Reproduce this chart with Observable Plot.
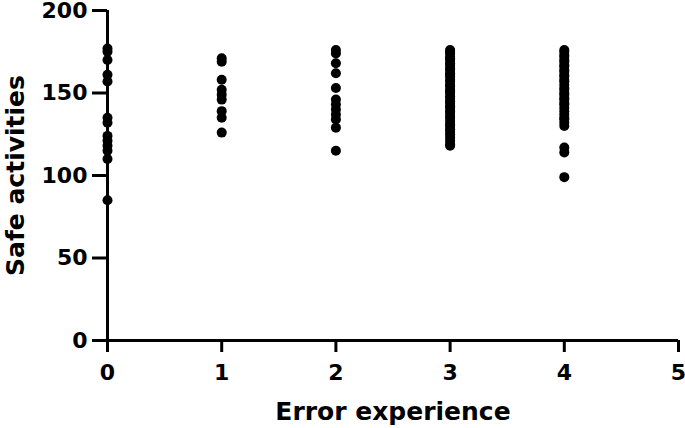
<!DOCTYPE html>
<html>
<head>
<meta charset="utf-8">
<script src="https://cdn.jsdelivr.net/npm/d3@7"></script>
<script src="https://cdn.jsdelivr.net/npm/@observablehq/plot@0.6"></script>
<style>
  html, body { margin: 0; padding: 0; background: #fff; }
  g[aria-label$="tick label"], g[aria-label$="tick label"] text {
    font-size: 22px !important;
    font-weight: bold !important;
    font-family: 'DejaVu Sans', sans-serif !important;
  }
</style>
</head>
<body>
<div id="chart"></div>
<script>
const xTicks = [0, 1, 2, 3, 4, 5];
const yTicks = [0, 50, 100, 150, 200];
const xLabel = "Error experience";
const yLabel = "Safe activities";

const exp0 = [177, 175, 170, 161, 157, 135, 132, 124, 121, 118, 115, 110, 85];
const exp1 = [171, 169, 158, 152, 149, 146, 139, 135, 126];
const exp2 = [176, 174, 168, 162, 153, 146, 143, 140, 137, 134, 129, 115];
const exp3 = [176, 175, 174, 172, 171, 170, 168, 167, 165, 164, 162, 161, 160, 158, 157, 155, 154, 152, 151, 150, 148, 147, 145, 144, 142, 141, 139, 138, 136, 135, 133, 131, 130, 128, 127, 125, 123, 121, 119, 118];
const exp4 = [176, 175, 173, 172, 170, 169, 167, 166, 164, 163, 161, 160, 158, 157, 155, 153, 152, 150, 149, 147, 146, 144, 143, 141, 139, 137, 135, 134, 132, 130, 117, 114, 99];

const groups = [exp0, exp1, exp2, exp3, exp4];
const data = groups.flatMap((vals, i) => vals.map(v => ({x: i, y: v})));

const FONT = "'DejaVu Sans', sans-serif";

const chart = Plot.plot({
  width: 685,
  height: 428,
  marginLeft: 107,
  marginRight: 7,
  marginTop: 10,
  marginBottom: 88,
  style: {fontFamily: FONT, fontSize: "22px", fontWeight: "bold", background: "#fff", color: "#000"},
  x: {domain: [0, 5]},
  y: {domain: [0, 200]},
  marks: [
    Plot.axisX({ticks: xTicks, tickFormat: d3.format("d"), tickSize: 12, strokeWidth: 3, tickPadding: 12,
      fontSize: 22, fontWeight: "bold", label: null}),
    Plot.axisY({ticks: yTicks, tickFormat: d3.format("d"), tickSize: 15, strokeWidth: 3, tickPadding: 5,
      fontSize: 22, fontWeight: "bold", label: null}),
    Plot.ruleY([0], {stroke: "#000", strokeWidth: 3}),
    Plot.ruleX([0], {stroke: "#000", strokeWidth: 3}),
    Plot.text([xLabel], {frameAnchor: "bottom", dy: 79, lineAnchor: "bottom", textAnchor: "middle", fontSize: 25, fontWeight: "bold", fill: "#000"}),
    Plot.text([yLabel], {frameAnchor: "left", dx: -92, rotate: -90, lineAnchor: "middle", textAnchor: "middle", fontSize: 25, fontWeight: "bold", fill: "#000"}),
    Plot.dot(data, {x: "x", y: "y", r: 5, fill: "#000", stroke: "none"})
  ]
});
document.getElementById("chart").appendChild(chart);
</script>
</body>
</html>
